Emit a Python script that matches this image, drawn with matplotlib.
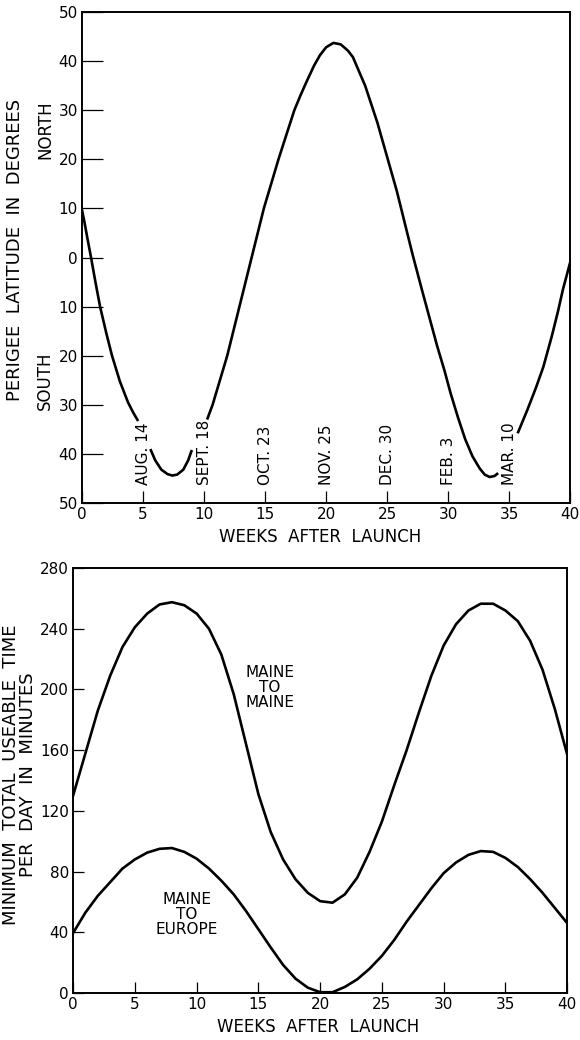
import matplotlib.pyplot as plt
from matplotlib import ticker

# ---- top chart: perigee latitude (north +, south -) ----
seg1_weeks = [0, 0.2, 0.45, 0.74, 1.1, 1.48, 2.0, 2.46, 3.1, 3.77, 4.2, 4.6]
seg1_lat = [9.7, 7.2, 3.8, 0, -5, -10, -15.5, -20, -25.2, -29.5, -31.6, -33.3]

seg2_weeks = [5.6, 6.0, 6.5, 7.0, 7.4, 7.8, 8.3, 8.7, 9.0]
seg2_lat = [-39, -41.3, -43.2, -44.1, -44.4, -44.2, -43.2, -41.3, -39.2]

seg3_weeks = [10.25, 10.7, 11.3, 11.9, 12.4, 12.9, 13.4, 13.9, 14.4, 14.9, 15.5,
              16.1, 16.8, 17.4, 17.9, 18.4, 19.0, 19.5, 20.0, 20.6, 21.2, 21.8,
              22.2, 23.2, 24.2, 25.0, 25.8, 26.5, 27.1, 27.9, 28.5, 29.1, 29.7,
              30.2, 30.8, 31.4, 32.0, 32.6, 33.0, 33.4, 33.8, 34.1]
seg3_lat = [-33, -30, -25, -20, -15, -10, -5, 0, 5, 10, 15,
            20, 25.4, 30, 33, 35.8, 39, 41.2, 42.8, 43.7, 43.4, 42.1,
            40.8, 35, 27.5, 20.5, 13.5, 6.5, 0.5, -7, -12.5, -18, -23,
            -27.6, -32.5, -37, -40.5, -43, -44.2, -44.7, -44.5, -43.9]

seg4_weeks = [35.7, 36.5, 37.2, 37.8, 38.5, 39.0, 39.4, 40]
seg4_lat = [-35.8, -31, -26.5, -22.3, -16, -11, -6.6, -1]

date_weeks = [5, 10, 15, 20, 25, 30, 35]
date_labels = ['AUG. 14', 'SEPT. 18', 'OCT. 23', 'NOV. 25', 'DEC. 30', 'FEB. 3', 'MAR. 10']

# ---- bottom chart: minimum useable time ----
weeks = list(range(0, 41))
maine_maine = [130, 158, 186, 209, 228, 241, 250, 256, 257.5, 255.5, 250,
               240, 223, 197, 164, 131, 106, 88, 75, 66, 60.5,
               59.5, 65, 76, 93, 113, 137, 160, 185, 209, 229,
               243, 252, 256.5, 256.5, 252, 245, 232, 213, 187, 157]
maine_europe = [39.5, 53, 64, 73, 82, 88, 92.5, 95, 95.5, 93, 88.5,
                82, 74, 65, 54, 42, 30, 18.5, 9.5, 3.5, 0.5,
                0.5, 4, 9, 16, 24.5, 35, 47, 58, 69, 79,
                86, 91, 93.5, 93, 89, 83, 75, 66, 56, 46]

plt.rcParams['font.family'] = 'DejaVu Sans'
fig = plt.figure(figsize=(5.8, 10.4), dpi=100)

lw = 1.9
fs = 11
lfs = 12

# top
ax1 = fig.add_axes([0.1414, 0.5163, 0.8416, 0.4722])
for wx, wy in [(seg1_weeks, seg1_lat), (seg2_weeks, seg2_lat),
               (seg3_weeks, seg3_lat), (seg4_weeks, seg4_lat)]:
    ax1.plot(wx, wy, color='black', lw=lw, solid_capstyle='butt', solid_joinstyle='round')
ax1.set_xlim(0, 40)
ax1.set_ylim(-50, 50)
ax1.set_xticks(range(0, 45, 5))
ax1.set_yticks(range(-50, 60, 10))
ax1.yaxis.set_major_formatter(ticker.FuncFormatter(lambda v, p: '%d' % abs(v)))
ax1.tick_params(direction='in', length=9, width=0.9, labelsize=fs, pad=3)
for t in ax1.yaxis.get_major_ticks():
    if abs(t.get_loc()) < 1e-6:
        t.tick1line.set_markersize(15)
for s in ax1.spines.values():
    s.set_linewidth(1.4)
for wk, lab in zip(date_weeks, date_labels):
    ax1.text(wk, -46.3, lab, rotation=90, ha='center', va='bottom', fontsize=fs)
ax1.text(-0.076, 26, 'NORTH', transform=ax1.get_yaxis_transform(), rotation=90,
         ha='center', va='center', fontsize=lfs)
ax1.text(-0.076, -25, 'SOUTH', transform=ax1.get_yaxis_transform(), rotation=90,
         ha='center', va='center', fontsize=lfs)
fig.text(0.026, 1 - 250 / 1040, 'PERIGEE  LATITUDE  IN  DEGREES', rotation=90,
         ha='center', va='center', fontsize=lfs + 1)
fig.text(0.552, 1 - 537 / 1040, 'WEEKS  AFTER  LAUNCH', ha='center', va='center', fontsize=lfs)

# bottom
ax2 = fig.add_axes([0.126, 0.0452, 0.852, 0.4086])
ax2.plot(weeks, maine_maine, color='black', lw=lw, solid_joinstyle='round')
ax2.plot(weeks, maine_europe, color='black', lw=lw, solid_joinstyle='round')
ax2.set_xlim(0, 40)
ax2.set_ylim(0, 280)
ax2.set_xticks(range(0, 45, 5))
ax2.set_yticks(range(0, 320, 40))
ax2.tick_params(direction='in', length=8, width=0.9, labelsize=fs, pad=3)
for s in ax2.spines.values():
    s.set_linewidth(1.4)
ax2.text(15.9, 201, 'MAINE\nTO\nMAINE', ha='center', va='center', fontsize=fs,
         linespacing=1.0)
ax2.text(9.2, 52, 'MAINE\nTO\nEUROPE', ha='center', va='center', fontsize=fs,
         linespacing=1.0)
fig.text(0.034, 1 - 775 / 1040, 'MINIMUM  TOTAL  USEABLE  TIME\nPER  DAY  IN  MINUTES',
         rotation=90, ha='center', va='center', fontsize=lfs + 1, linespacing=0.95)
fig.text(0.548, 1 - 1027 / 1040, 'WEEKS  AFTER  LAUNCH', ha='center', va='center', fontsize=lfs)

fig.savefig('out.png', dpi=100)
